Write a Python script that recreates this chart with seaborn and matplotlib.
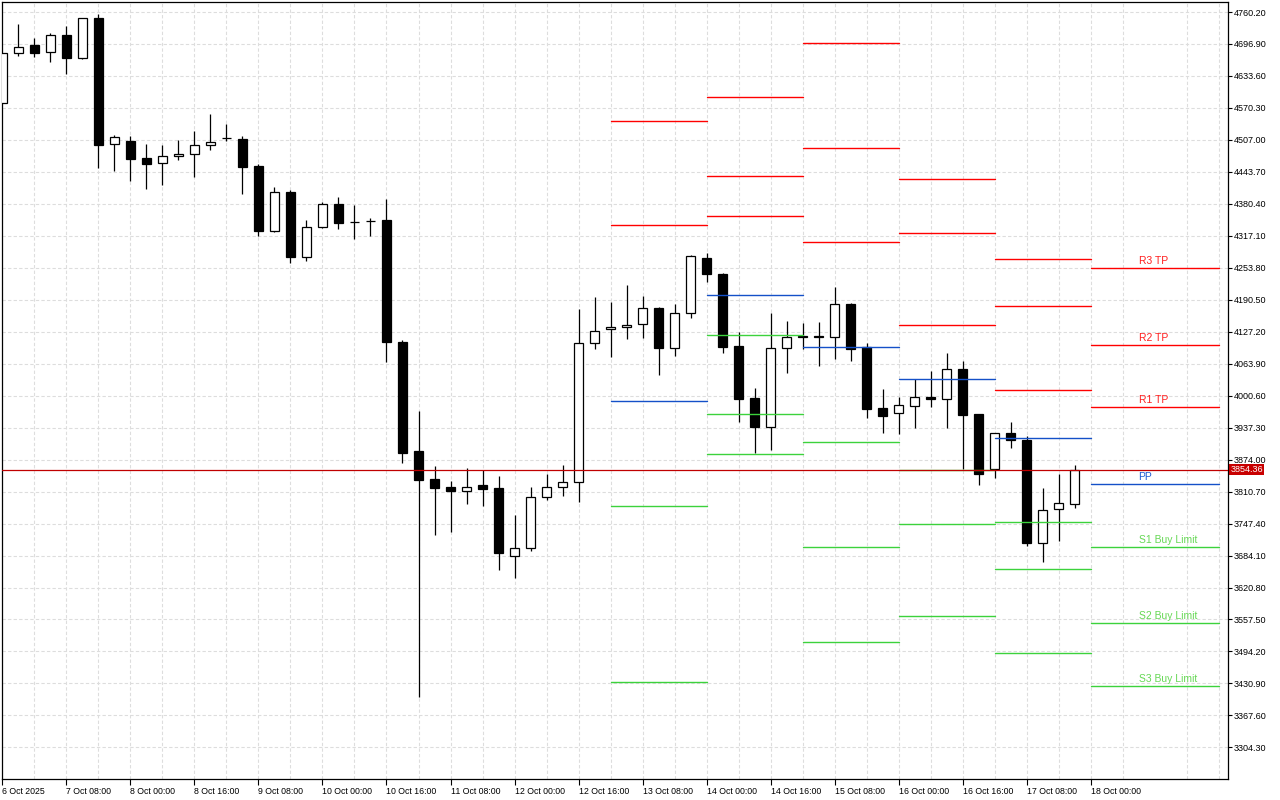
import numpy as np
import pandas as pd
import matplotlib
matplotlib.use("Agg")
import matplotlib.pyplot as plt
import matplotlib.transforms as mtransforms
import seaborn as sns

# -----------------------------
# Candle data (H4 bars)
# -----------------------------
first_bar = "2025-10-06 16:00"

opens = [4579.4, 4678.4, 4694.3, 4680.4, 4714.7, 4669.7, 4747.7, 4498.3, 4504.8, 4470.6,
         4460.7, 4474.5, 4478.5, 4496.3, 4510.2, 4508.2, 4455.3, 4327.2, 4403.8, 4275.7,
         4335.2, 4380.1, 4345.0, 4346.0, 4348.4, 4106.7, 3891.7, 3835.0, 3819.4, 3812.5,
         3822.8, 3817.2, 3683.4, 3699.2, 3800.8, 3820.6, 3829.5, 4104.1, 4132.6, 4136.8,
         4141.9, 4173.6, 4095.6, 4163.7, 4272.6, 4241.5, 4098.9, 3995.4, 3939.2, 4094.4,
         4118.7, 4118.7, 4116.2, 4182.1, 4096.4, 3975.6, 3965.7, 3979.6, 3997.4, 3993.4,
         4052.8, 3964.3, 3855.4, 3926.7, 3912.9, 3708.3, 3775.6, 3786.7]

highs = [4678.4, 4736.4, 4708.7, 4718.6, 4732.5, 4749.0, 4755.6, 4516.7, 4514.7, 4498.9,
         4496.9, 4506.8, 4524.6, 4558.3, 4538.5, 4514.7, 4459.3, 4413.7, 4407.8, 4348.4,
         4384.6, 4393.9, 4378.1, 4351.8, 4390.0, 4111.4, 3969.5, 3861.0, 3830.9, 3856.8,
         3854.1, 3841.8, 3764.0, 3820.6, 3845.3, 3864.3, 4171.6, 4195.6, 4185.9, 4219.3,
         4197.9, 4175.6, 4182.1, 4279.1, 4282.5, 4243.5, 4126.1, 4015.8, 4164.3, 4148.4,
         4143.9, 4146.5, 4215.8, 4184.7, 4104.3, 4013.8, 3998.0, 4034.2, 4050.0, 4085.7,
         4069.2, 3965.0, 3927.0, 3948.5, 3921.4, 3817.8, 3845.5, 3863.4]

lows = [4579.4, 4673.7, 4671.7, 4661.8, 4638.0, 4667.2, 4451.9, 4445.4, 4426.2, 4410.4,
        4418.3, 4467.8, 4434.1, 4487.6, 4505.4, 4400.5, 4317.3, 4324.0, 4263.9, 4267.8,
        4333.0, 4331.2, 4311.4, 4317.3, 4067.9, 3867.1, 3403.7, 3724.4, 3730.5, 3786.0,
        3781.8, 3656.1, 3639.1, 3692.3, 3794.1, 3801.6, 3789.9, 4093.0, 4077.4, 4112.8,
        4115.4, 4042.1, 4079.7, 4155.0, 4226.2, 4085.7, 3949.1, 3887.7, 3893.0, 4046.1,
        4092.4, 4059.9, 4073.8, 4069.8, 3956.4, 3927.3, 3925.3, 3937.2, 3977.6, 3937.2,
        3856.0, 3824.4, 3838.2, 3897.6, 3703.6, 3671.9, 3712.9, 3778.8]

closes = [4678.4, 4690.3, 4679.6, 4714.1, 4669.7, 4747.7, 4497.5, 4512.1, 4469.8, 4459.9,
          4474.5, 4478.5, 4496.3, 4502.2, 4510.2, 4453.9, 4327.2, 4403.2, 4275.7, 4334.0,
          4380.1, 4343.1, 4345.0, 4347.0, 4107.5, 3886.9, 3833.7, 3818.0, 3811.9, 3820.6,
          3816.6, 3688.9, 3699.2, 3800.8, 3820.6, 3830.3, 4104.1, 4129.2, 4137.4, 4141.5,
          4173.6, 4095.6, 4163.7, 4277.1, 4242.1, 4097.6, 3994.6, 3939.2, 4094.4, 4116.2,
          4116.2, 4116.5, 4181.5, 4093.6, 3974.8, 3961.0, 3981.5, 3997.4, 3993.4, 4052.8,
          3963.0, 3846.1, 3926.1, 3912.3, 3708.3, 3773.7, 3787.5, 3854.36]

current_price = 3854.36

# -----------------------------
# Daily pivot levels
# -----------------------------
level_days = ["2025-10-13", "2025-10-14", "2025-10-15", "2025-10-16", "2025-10-17", "2025-10-18"]
r3 = [np.nan, 4591.3, 4698.2, 4429.0, 4272.0, 4252.8]
r2 = [4543.8, 4434.9, 4490.4, 4321.9, 4179.1, 4100.3]
r1 = [4337.9, 4355.7, 4304.3, 4141.5, 4012.4, 3977.6]
pp = [3989.5, 4199.3, 4096.4, 4034.4, 3917.6, 3825.1]
s1 = [3781.2, 4120.1, 3908.3, 3854.0, 3751.1, 3700.4]
s2 = [3433.0, 3963.7, 3700.4, 3746.9, 3657.5, 3549.9]
s3 = [np.nan, 3884.5, 3512.3, 3564.6, 3491.0, 3425.2]

level_names = ["R3", "R2", "R1", "PP", "S1", "S2", "S3"]
level_labels = ["R3 TP", "R2 TP", "R1 TP", "PP", "S1 Buy Limit", "S2 Buy Limit", "S3 Buy Limit"]

# -----------------------------
# Axis labels
# -----------------------------
price_ticks = ["4760.20", "4696.90", "4633.60", "4570.30", "4507.00", "4443.70", "4380.40",
               "4317.10", "4253.80", "4190.50", "4127.20", "4063.90", "4000.60", "3937.30",
               "3874.00", "3810.70", "3747.40", "3684.10", "3620.80", "3557.50", "3494.20",
               "3430.90", "3367.60", "3304.30"]
time_labels = ["6 Oct 2025", "7 Oct 08:00", "8 Oct 00:00", "8 Oct 16:00", "9 Oct 08:00",
               "10 Oct 00:00", "10 Oct 16:00", "11 Oct 08:00", "12 Oct 00:00", "12 Oct 16:00",
               "13 Oct 08:00", "14 Oct 00:00", "14 Oct 16:00", "15 Oct 08:00", "16 Oct 00:00",
               "16 Oct 16:00", "17 Oct 08:00", "18 Oct 00:00"]

# -----------------------------
# Theme
# -----------------------------
sns.set_theme(style="white")
plt.rcParams["font.family"] = ["Liberation Sans", "DejaVu Sans"]

bar_hours = pd.Timedelta("4h")
times = pd.date_range(first_bar, periods=len(opens), freq="4h")
df = pd.DataFrame({"time": times, "open": opens, "high": highs, "low": lows, "close": closes})
df["x"] = np.arange(len(df))
df["fill"] = np.where(df["close"] < df["open"], "black", "white")

x_left, x_right = -0.03, 76.56
y_low, y_high = 3241.7, 4780.0

# level segments as a long table (one day = 6 bars, the coming day is drawn longer)
rows = []
level_values = [r3, r2, r1, pp, s1, s2, s3]
for k, day in enumerate(level_days):
    start = (pd.Timestamp(day) - times[0]) / bar_hours
    end = start + 8 if k == len(level_days) - 1 else start + 6
    for name, vals in zip(level_names, level_values):
        v = vals[k]
        if np.isnan(v):
            continue
        kind = name[0] if name != "PP" else "PP"
        rows.append({"seg": f"{day}-{name}", "kind": kind, "x": start, "price": v})
        rows.append({"seg": f"{day}-{name}", "kind": kind, "x": end, "price": v})
levels = pd.DataFrame(rows)

fig = plt.figure(figsize=(12.8, 8), dpi=100)
ax = fig.add_axes([2 / 1280, 21 / 800, 1225.5 / 1280, 777 / 800])
ax.set_facecolor("white")

# candles
ax.vlines(df["x"], df["low"], df["high"], color="black", lw=0.9, zorder=3)
ax.bar(df["x"], df["close"] - df["open"], bottom=df["open"], width=0.62,
       color=df["fill"], edgecolor="black", linewidth=0.9, zorder=4)

# pivot levels
sns.lineplot(data=levels, x="x", y="price", hue="kind", units="seg", estimator=None,
             palette={"R": "#FF0000", "PP": "#1450C8", "S": "#3CD23C"},
             linewidth=1.0, legend=False, sort=False, ax=ax, zorder=5)

# labels on the upcoming day
last_start = (pd.Timestamp(level_days[-1]) - times[0]) / bar_hours
label_colors = {"R": "#FF1E1E", "PP": "#1E5AD2", "S": "#66D855"}
for name, lab, vals in zip(level_names, level_labels, level_values):
    kind = name[0] if name != "PP" else "PP"
    ax.annotate(lab, (last_start + 3, vals[-1]), xytext=(0, 1.5), textcoords="offset points",
                ha="left", va="bottom", fontsize=7.5, color=label_colors[kind], zorder=6)

# current price line + tag
ax.axhline(current_price, color="#C00000", lw=0.9, zorder=6)
trans = mtransforms.blended_transform_factory(ax.transAxes, ax.transData)
ax.text(1.0025, current_price, f"{current_price:.2f}", transform=trans, ha="left", va="center",
        fontsize=6.5, color="white", clip_on=False, zorder=10,
        bbox=dict(boxstyle="square,pad=0.12", facecolor="#C80000", edgecolor="none"))

ax.set_xlim(x_left, x_right)
ax.set_ylim(y_low, y_high)

# y axis on the right
ax.yaxis.tick_right()
ax.set_yticks([float(t) for t in price_ticks])
ax.set_yticklabels(price_ticks)
ax.tick_params(axis="y", which="major", right=True, left=False, length=3, width=0.8,
               pad=1.5, labelsize=6.5, colors="black")

# x axis
tick_pos = [0] + [4 * k for k in range(1, len(time_labels))]
ax.set_xticks(tick_pos)
ax.set_xticklabels(time_labels, ha="left")
ax.set_xticks([p + 2 for p in tick_pos] + [74, 76], minor=True)
ax.tick_params(axis="x", which="major", bottom=True, length=4, width=0.8, pad=1.5,
               labelsize=6.3, colors="black")
ax.tick_params(axis="x", which="minor", bottom=False, length=0)

ax.grid(True, axis="x", which="both", color="#DDDDDD", linestyle=(0, (3, 2)), lw=0.8, zorder=0)
ax.grid(True, axis="y", which="major", color="#DDDDDD", linestyle=(0, (3, 2)), lw=0.8, zorder=0)
ax.set_axisbelow(True)
ax.set_xlabel("")
ax.set_ylabel("")

for side in ["left", "right", "top", "bottom"]:
    ax.spines[side].set_visible(True)
    ax.spines[side].set_color("black")
    ax.spines[side].set_linewidth(0.9)

fig.savefig("out.png", dpi=100, facecolor="white")
plt.close(fig)
